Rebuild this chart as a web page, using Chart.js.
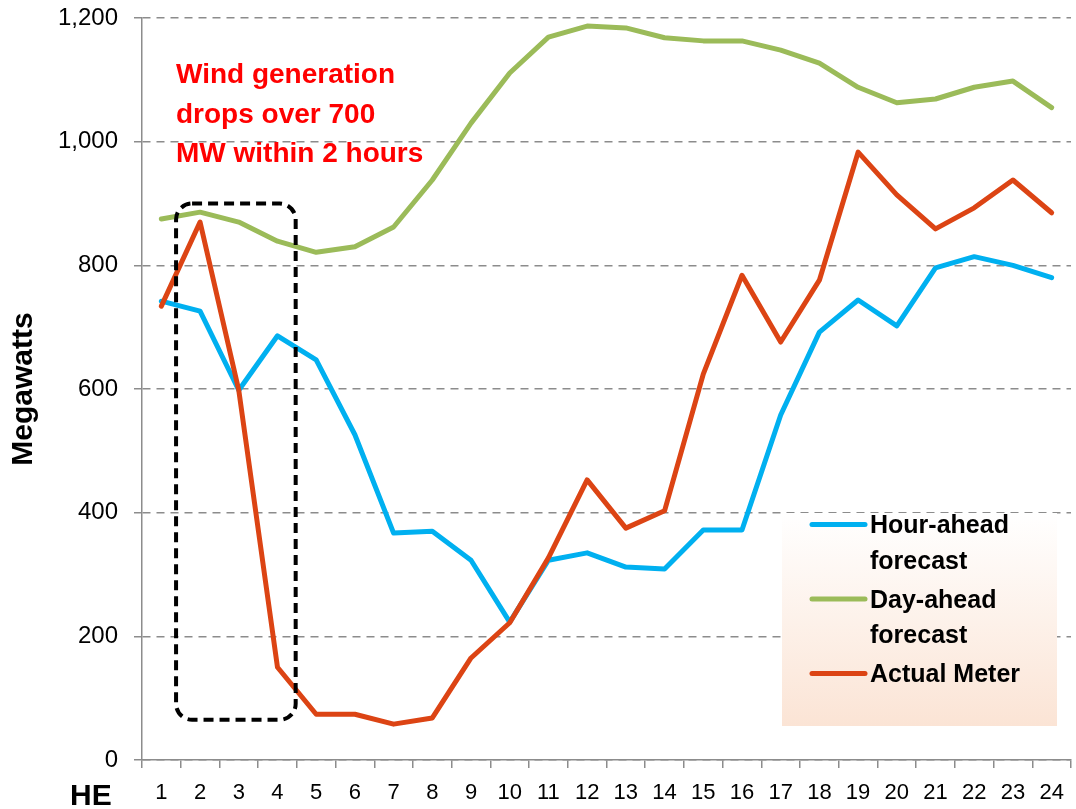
<!DOCTYPE html>
<html>
<head>
<meta charset="utf-8">
<script src="https://cdn.jsdelivr.net/npm/chart.js@4.4.1/dist/chart.umd.min.js"></script>
<style>
  html, body { margin: 0; padding: 0; background: #fff; }
  #wrap { width: 1076px; height: 809px; position: relative; }
</style>
</head>
<body>
<div id="wrap"><canvas id="grafico"></canvas></div>
<script>
const horas = ['1', '2', '3', '4', '5', '6', '7', '8', '9', '10', '11', '12',
               '13', '14', '15', '16', '17', '18', '19', '20', '21', '22', '23', '24'];
const horaAntes = [742, 726, 598, 686, 647, 526, 367, 370, 323, 223, 323, 335,
                   312, 309, 372, 372, 558, 692, 744, 702, 796, 814, 800, 780];
const diaAntes = [875, 886, 870, 839, 821, 830, 862, 938, 1030, 1111, 1169, 1187,
                  1184, 1168, 1163, 1163, 1148, 1127, 1088, 1063, 1069, 1088, 1098, 1055];
const medido = [734, 870, 598, 150, 74, 74, 58, 68, 165, 222, 327, 453,
                375, 403, 624, 784, 676, 776, 983, 914, 859, 893, 938, 885];
const nomes = [['Hour-ahead', 'forecast'], ['Day-ahead', 'forecast'], ['Actual Meter']];
const ticksY = [0, 200, 400, 600, 800, 1000, 1200];
const nota = ['Wind generation', 'drops over 700', 'MW within 2 hours'];

const FONTE = "'Liberation Sans', Arial, sans-serif";
const CINZA = '#8c8c8c';

const extras = {
    id: 'extras',
    afterDatasetsDraw(chart) {
        const { ctx, scales: { x, y } } = chart;
        // caixa tracejada em volta da queda (horas 2-4)
        const l = x.getPixelForValue(0.38), r = x.getPixelForValue(3.47);
        const t = y.getPixelForValue(900), b = y.getPixelForValue(65);
        ctx.save();
        ctx.setLineDash([10, 6]);
        ctx.lineWidth = 4;
        ctx.strokeStyle = '#000';
        ctx.beginPath();
        ctx.roundRect(l, t, r - l, b - t, 16);
        ctx.stroke();
        ctx.restore();
    },
    afterDraw(chart) {
        const { ctx, chartArea: area, scales: { x } } = chart;
        ctx.save();

        // legenda
        const bx = area.right - 289, by = area.bottom - 247, bw = 275, bh = 213;
        const grad = ctx.createLinearGradient(0, by, 0, by + bh);
        grad.addColorStop(0, '#ffffff');
        grad.addColorStop(1, '#fbe4d5');
        ctx.fillStyle = grad;
        ctx.fillRect(bx, by, bw, bh);

        ctx.font = 'bold 25px ' + FONTE;
        ctx.textBaseline = 'alphabetic';
        ctx.textAlign = 'left';
        let base = by + 20;
        chart.data.datasets.forEach((ds, i) => {
            ctx.strokeStyle = ds.borderColor;
            ctx.lineWidth = 5;
            ctx.lineCap = 'round';
            ctx.beginPath();
            ctx.moveTo(bx + 30, base - 8.5);
            ctx.lineTo(bx + 83, base - 8.5);
            ctx.stroke();
            ctx.fillStyle = '#000';
            nomes[i].forEach((linha, j) => {
                ctx.fillText(linha, bx + 88, base);
                base += j < nomes[i].length - 1 ? 35.5 : 39;
            });
        });

        // nota em vermelho
        ctx.fillStyle = '#ff0000';
        ctx.font = 'bold 28px ' + FONTE;
        nota.forEach((linha, i) => ctx.fillText(linha, area.left + 34, area.top + 65 + i * 39.5));

        // HE
        ctx.fillStyle = '#000';
        ctx.font = 'bold 30px ' + FONTE;
        ctx.fillText('HE', x.left - 72, x.bottom - 4);
        ctx.restore();
    }
};

const linha = (label, data, cor, ordem) => ({
    label, data,
    borderColor: cor,
    backgroundColor: cor,
    borderWidth: 5,
    pointRadius: 0,
    borderJoinStyle: 'round',
    borderCapStyle: 'round',
    tension: 0,
    order: ordem
});

new Chart(document.getElementById('grafico'), {
    type: 'line',
    data: {
        labels: horas,
        datasets: [
            linha(nomes[0].join(' '), horaAntes, '#00b0f0', 3),
            linha(nomes[1].join(' '), diaAntes, '#9bbb59', 2),
            linha(nomes[2].join(' '), medido, '#dc4414', 1)
        ]
    },
    options: {
        responsive: true,
        maintainAspectRatio: false,
        animation: false,
        layout: { padding: { top: 18, right: 5, left: 0, bottom: 0 } },
        plugins: { legend: { display: false }, tooltip: { enabled: false } },
        scales: {
            x: {
                offset: true,
                grid: { offset: true, drawOnChartArea: false, color: CINZA, lineWidth: 1.5, tickLength: 8 },
                border: { color: CINZA, width: 1.5 },
                ticks: { font: { family: FONTE, size: 22 }, color: '#000', padding: 12, maxRotation: 0, autoSkip: false },
                afterFit: s => { s.height = 49; s.paddingLeft = 0; s.paddingRight = 0; }
            },
            y: {
                min: 0,
                max: 1200,
                afterBuildTicks: s => { s.ticks = ticksY.map(v => ({ value: v })); },
                grid: { color: CINZA, lineWidth: 1.5, tickLength: 8 },
                border: { color: CINZA, width: 1.5, dash: [8, 6] },
                ticks: {
                    font: { family: FONTE, size: 24 },
                    color: '#000',
                    padding: 16,
                    callback: v => v.toLocaleString('en-US')
                },
                title: {
                    display: true,
                    text: 'Megawatts',
                    color: '#000',
                    font: { family: FONTE, size: 30, weight: 'bold' },
                    padding: { top: 6, bottom: 0 }
                },
                afterFit: s => { s.width = 142; s.paddingTop = 0; s.paddingBottom = 0; }
            }
        }
    },
    plugins: [extras]
});
</script>
</body>
</html>
